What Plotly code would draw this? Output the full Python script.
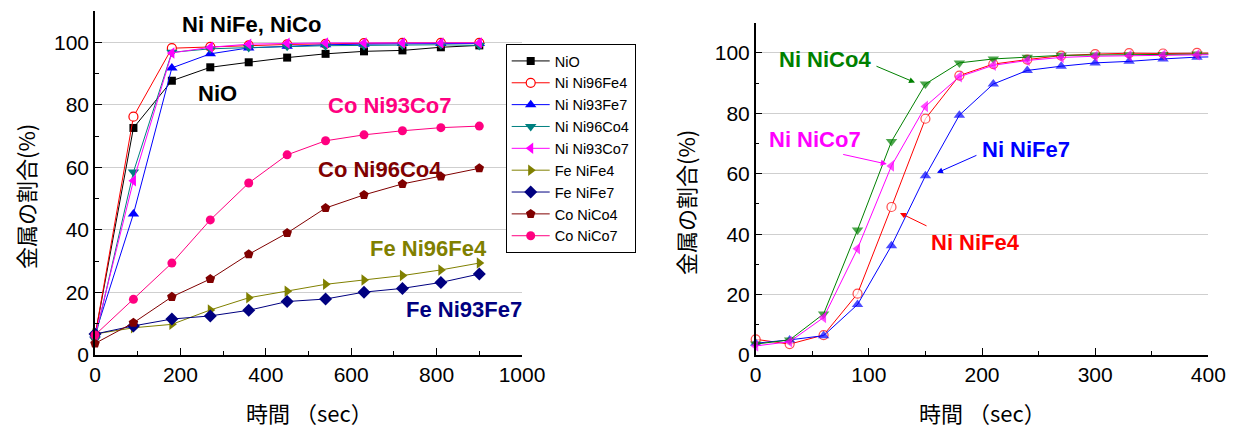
import plotly.graph_objects as go

# ---------------- data: left chart ----------------
t_left = [0, 90, 180, 270, 360, 450, 540, 630, 720, 810, 900]
nio      = [6.0, 72.6, 87.7, 92.0, 93.6, 95.1, 96.3, 97.1, 97.4, 98.4, 99.0]
ni_ni96fe4 = [6.0, 76.2, 98.1, 98.5, 99.0, 99.3, 99.5, 99.7, 99.8, 99.8, 99.8]
ni_ni93fe7 = [6.5, 45.1, 91.8, 96.3, 98.2, 98.7, 99.2, 99.4, 99.6, 99.6, 99.6]
ni_ni96co4 = [5.0, 58.5, 96.8, 97.9, 98.3, 98.7, 98.9, 99.0, 99.1, 99.2, 99.0]
ni_ni93co7 = [6.0, 55.7, 96.6, 98.4, 99.4, 99.7, 99.8, 99.8, 99.8, 99.8, 99.8]
fe_nife4 = [6.7, 8.7, 9.8, 14.4, 18.3, 20.4, 22.6, 24.0, 25.4, 27.2, 29.4]
fe_nife7 = [6.7, 9.3, 11.5, 12.5, 14.3, 17.1, 17.9, 20.1, 21.3, 23.2, 25.9]
co_nico4 = [3.7, 10.3, 18.6, 24.3, 32.2, 39.0, 47.0, 51.2, 54.7, 57.1, 59.7]
co_nico7 = [6.4, 17.8, 29.4, 43.2, 55.0, 64.0, 68.5, 70.4, 71.7, 72.7, 73.2]

# ---------------- data: right chart ----------------
t_right = [0, 30, 60, 90, 120, 150, 180, 210, 240, 270, 300, 330, 360, 390, 420]
r_nife4 = [5.2, 3.6, 6.6, 20.3, 49.0, 78.2, 92.5, 96.3, 97.8, 99.1, 99.6, 99.9, 99.8, 100.0, 100.0]
r_nife7 = [3.9, 5.0, 6.4, 16.7, 36.2, 59.3, 79.4, 89.7, 94.2, 95.6, 96.7, 97.2, 98.0, 98.6, 98.8]
r_nico4 = [3.6, 5.0, 13.6, 41.4, 70.7, 89.7, 96.7, 98.0, 98.6, 99.2, 99.3, 99.4, 99.5, 99.6, 99.7]
r_nico7 = [3.0, 4.4, 12.4, 35.2, 62.6, 82.3, 92.1, 95.9, 97.5, 98.5, 98.9, 99.1, 99.3, 99.4, 99.5]

left_names = ["NiO", "Ni Ni96Fe4", "Ni Ni93Fe7", "Ni Ni96Co4", "Ni Ni93Co7",
              "Fe NiFe4", "Fe NiFe7", "Co NiCo4", "Co NiCo7"]
left_series = [nio, ni_ni96fe4, ni_ni93fe7, ni_ni96co4, ni_ni93co7,
               fe_nife4, fe_nife7, co_nico4, co_nico7]
left_colors = ["#000000", "#ff0000", "#0000ff", "#008080", "#ff00ff",
               "#808000", "#000080", "#800000", "#ff0080"]
left_symbols = ["square", "circle", "triangle-up", "triangle-down", "triangle-left",
                "triangle-right", "diamond", "pentagon", "circle"]
left_sizes = [8, 9, 10, 10, 10, 10, 10, 10, 9]

right_names = ["Ni NiFe4", "Ni NiFe7", "Ni NiCo4", "Ni NiCo7"]
right_series = [r_nife4, r_nife7, r_nico4, r_nico7]
right_colors = ["#ff0000", "#0000ff", "#008000", "#ff00ff"]
right_symbols = ["circle", "triangle-up", "triangle-down", "triangle-left"]

fig = go.Figure()

for name, ys, col, sym, sz in zip(left_names, left_series, left_colors, left_symbols, left_sizes):
    open_marker = (name == "Ni Ni96Fe4")
    fig.add_trace(go.Scatter(
        x=t_left, y=ys, name=name, mode="lines+markers",
        line=dict(color=col, width=1),
        marker=dict(symbol=sym, size=sz,
                    color="white" if open_marker else col,
                    line=dict(color=col, width=1.2 if open_marker else 0)),
        cliponaxis=False, xaxis="x", yaxis="y"))

for name, ys, col, sym in zip(right_names, right_series, right_colors, right_symbols):
    open_marker = (name == "Ni NiFe4")
    sizes = [9 if sym == "circle" else 10] * (len(t_right) - 1) + [0]
    fig.add_trace(go.Scatter(
        x=t_right, y=ys, name=name, mode="lines+markers", showlegend=False,
        line=dict(color=col, width=1),
        marker=dict(symbol=sym, size=sizes,
                    color="white" if open_marker else col,
                    line=dict(color=col, width=1.2 if open_marker else 0)),
        cliponaxis=False, xaxis="x2", yaxis="y2"))

tickfont = dict(family="Arial, Liberation Sans", size=21, color="black")
axis_common = dict(showline=True, linecolor="black", linewidth=1.5, ticks="inside",
                   tickcolor="black", ticklen=7, tickwidth=1, tickfont=tickfont,
                   zeroline=False, mirror=False)

fig.update_layout(
    width=1241, height=428,
    margin=dict(l=0, r=0, t=0, b=0, autoexpand=False),
    paper_bgcolor="white", plot_bgcolor="white",
    xaxis=dict(domain=[95/1241, 522/1241], range=[0, 1000], dtick=200, showgrid=False,
               minor=dict(dtick=100, ticks="inside", ticklen=4, tickcolor="black", showgrid=False),
               anchor="y", **axis_common),
    yaxis=dict(domain=[(428-355)/428, (428-11)/428], range=[0, 110],
               tickvals=[0, 20, 40, 60, 80, 100],
               showgrid=True, gridcolor="#cfcfcf", gridwidth=1,
               minor=dict(dtick=10, ticks="inside", ticklen=4, tickcolor="black", showgrid=False),
               anchor="x", **axis_common),
    xaxis2=dict(domain=[755.7/1241, 1208.3/1241], range=[0, 400], dtick=100, showgrid=False,
                minor=dict(dtick=50, ticks="inside", ticklen=4, tickcolor="black", showgrid=False),
                anchor="y2", **axis_common),
    yaxis2=dict(domain=[(428-355)/428, (428-22.7)/428], range=[0, 110],
                tickvals=[0, 20, 40, 60, 80, 100],
                showgrid=True, gridcolor="#cfcfcf", gridwidth=1,
                minor=dict(dtick=10, ticks="inside", ticklen=4, tickcolor="black", showgrid=False),
                anchor="x2", **axis_common),
    legend=dict(x=505.7/1241, y=1-44/428, xanchor="left", yanchor="top",
                bgcolor="white", bordercolor="black", borderwidth=1,
                font=dict(family="Arial, Liberation Sans", size=14.5, color="black"),
                itemwidth=38, tracegroupgap=0),
    showlegend=True,
)

jp = "Noto Sans CJK JP"
anns = []
# axis titles
for x, y, ang, txt in [(309.5, 412, 0, "時間 （sec）"), (982, 412, 0, "時間 （sec）"),
                       (25, 197, -90, "金属の割合(%)"), (685, 203, -90, "金属の割合(%)")]:
    anns.append(dict(text=txt, x=x/1241, y=1-y/428, xref="paper", yref="paper",
                     xanchor="center", yanchor="middle", textangle=ang,
                     showarrow=False, font=dict(family=jp, size=22, color="black")))

bold = "Arial, Liberation Sans"
left_labels = [
    ("Ni NiFe, NiCo", 366, 105.7, "#000000"),
    ("NiO", 287, 83.6, "#000000"),
    ("Co Ni93Co7", 690, 79.7, "#ff0080"),
    ("Co Ni96Co4", 668, 59.2, "#800000"),
    ("Fe Ni96Fe4", 782, 33.9, "#808000"),
    ("Fe Ni93Fe7", 864, 14.4, "#000080"),
]
for txt, x, y, col in left_labels:
    anns.append(dict(text="<b>%s</b>" % txt, x=x, y=y, xref="x", yref="y", showarrow=False,
                     xanchor="center", yanchor="middle",
                     font=dict(family=bold, size=22, color=col)))

right_labels = [
    ("Ni NiCo4", 60.9, 97.8, "#008000"),
    ("Ni NiCo7", 52.4, 71.4, "#ff00ff"),
    ("Ni NiFe7", 238.9, 68.0, "#0000ff"),
    ("Ni NiFe4", 194.6, 37.1, "#ff0000"),
]
for txt, x, y, col in right_labels:
    anns.append(dict(text="<b>%s</b>" % txt, x=x, y=y, xref="x2", yref="y2", showarrow=False,
                     xanchor="center", yanchor="middle",
                     font=dict(family=bold, size=22, color=col)))

arrows = [  # head (x, y), tail (ax, ay), colour
    (140.8, 90.2, 105.4, 95.8, "#008000"),
    (115.8, 63.2, 76.0, 66.5, "#ff00ff"),
    (160.2, 60.3, 196.4, 66.3, "#0000ff"),
    (127.5, 47.0, 152.3, 42.5, "#ff0000"),
]
for x, y, ax, ay, col in arrows:
    anns.append(dict(text="", x=x, y=y, ax=ax, ay=ay, xref="x2", yref="y2",
                     axref="x2", ayref="y2", showarrow=True, arrowhead=2,
                     arrowsize=1.2, arrowwidth=1, arrowcolor=col))

fig.update_layout(annotations=anns)
fig.write_html("out.html", config={"displayModeBar": False},
               post_script="document.body.style.margin='0';document.body.style.overflow='hidden';")
